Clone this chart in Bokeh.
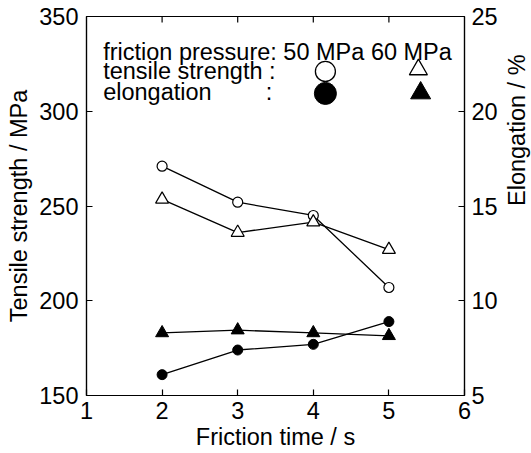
import math
from bokeh.plotting import figure
from bokeh.models import Range1d, LinearAxis, FixedTicker, Label
from bokeh.embed import file_html
from bokeh.resources import INLINE

# data
friction_time = [2, 3, 4, 5]
tensile_50 = [271, 252, 245, 207]
tensile_60 = [253.5, 236, 241.5, 227]
elong_50 = [6.1, 7.4, 7.7, 8.9]
elong_60 = [8.3, 8.45, 8.3, 8.15]

x_ticks = [1, 2, 3, 4, 5, 6]
left_ticks = [150, 200, 250, 300, 350]
right_ticks = [5, 10, 15, 20, 25]

FONT = "Liberation Sans"
FS = "23.5px"

p = figure(frame_width=378, frame_height=379, x_range=Range1d(1, 6), y_range=Range1d(150, 350),
           output_backend="svg", toolbar_location=None,
           min_border_left=86, min_border_right=60, min_border_top=16, min_border_bottom=50)
p.extra_y_ranges = {"el": Range1d(5, 25)}
p.grid.visible = False
p.outline_line_color = "black"
p.outline_line_width = 1.2
p.background_fill_color = "white"
p.border_fill_color = "white"

def style_axis(ax, ticks):
    ax.ticker = FixedTicker(ticks=ticks)
    ax.major_tick_in = 6
    ax.major_tick_out = 0
    ax.minor_tick_line_color = None
    ax.axis_line_color = "black"
    ax.axis_line_width = 1.2
    ax.major_tick_line_color = "black"
    ax.major_tick_line_width = 1.2
    ax.major_label_text_font = FONT
    ax.major_label_text_font_size = FS
    ax.major_label_text_color = "black"
    ax.axis_label_text_font = FONT
    ax.axis_label_text_font_size = FS
    ax.axis_label_text_font_style = "normal"
    ax.axis_label_text_color = "black"

style_axis(p.xaxis[0], x_ticks)
p.xaxis[0].axis_label = "Friction time / s"
p.xaxis[0].major_label_standoff = 6
p.xaxis[0].axis_label_standoff = 2

style_axis(p.yaxis[0], left_ticks)
p.yaxis[0].axis_label = "Tensile strength / MPa"
p.yaxis[0].major_label_standoff = 8
p.yaxis[0].axis_label_standoff = 4

ry = LinearAxis(y_range_name="el", axis_label="Elongation / %")
style_axis(ry, right_ticks)
ry.major_label_standoff = 7
ry.axis_label_standoff = 16
try:
    ry.axis_label_orientation = math.pi / 2
except Exception:
    pass
p.add_layout(ry, "right")

# inward ticks on the top frame edge
top_ticks = x_ticks[1:-1]
p.ray(x=top_ticks, y=[350] * len(top_ticks), length=6, length_units="screen",
      angle=-math.pi / 2, line_color="black", line_width=1.2)

LW = 1.3
# tensile strength (left axis)
p.line(friction_time, tensile_50, line_color="black", line_width=LW)
p.scatter(friction_time, tensile_50, marker="circle", size=10, fill_color="white",
          line_color="black", line_width=1.2)
p.line(friction_time, tensile_60, line_color="black", line_width=LW)
p.scatter(friction_time, tensile_60, marker="triangle", size=13, fill_color="white",
          line_color="black", line_width=1.2)
# elongation (right axis)
p.line(friction_time, elong_50, line_color="black", line_width=LW, y_range_name="el")
p.scatter(friction_time, elong_50, marker="circle", size=10, fill_color="black",
          line_color="black", y_range_name="el")
p.line(friction_time, elong_60, line_color="black", line_width=LW, y_range_name="el")
p.scatter(friction_time, elong_60, marker="triangle", size=13, fill_color="black",
          line_color="black", y_range_name="el")

# legend block
def lab(x, y, t):
    p.add_layout(Label(x=x, y=y, text=t, text_font=FONT, text_font_size=FS,
                       text_color="black", text_baseline="alphabetic"))

lab(1.22, 331.5, "friction pressure: 50 MPa 60 MPa")
lab(1.22, 321.0, "tensile strength :")
lab(1.22, 310.4, "elongation")
lab(3.37, 310.4, ":")
p.scatter([4.16], [321.0], marker="circle", size=20, fill_color="white",
          line_color="black", line_width=1.3)
p.scatter([4.16], [309.4], marker="circle", size=22, fill_color="black", line_color="black")
p.scatter([5.39], [322.0], marker="triangle", size=18, fill_color="white",
          line_color="black", line_width=1.3)
p.scatter([5.42], [309.6], marker="triangle", size=20, fill_color="black", line_color="black")

open("out.html", "w").write(file_html(p, INLINE))
